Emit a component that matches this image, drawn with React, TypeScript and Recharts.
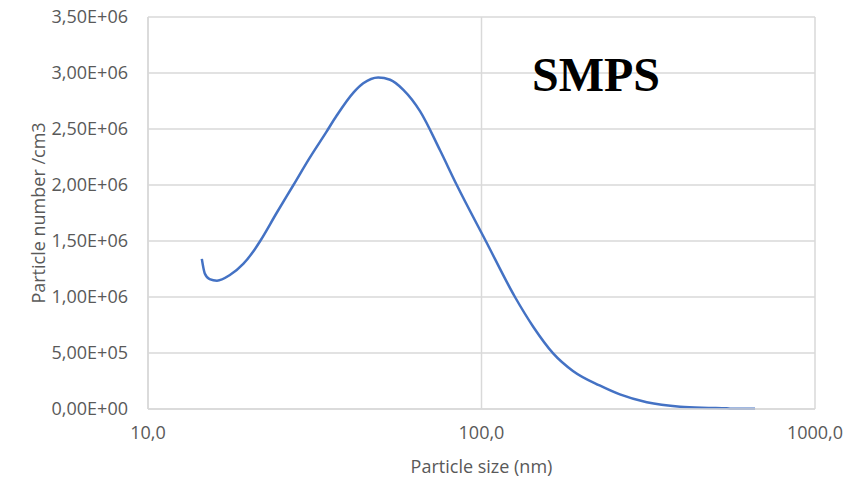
import { LineChart, Line, XAxis, YAxis, CartesianGrid } from 'recharts';

// particle size (nm)
const sizes = [
  14.5, 14.8, 15.3, 16.1, 17.6, 19.3, 20.5, 21.7, 24.3, 27.3, 30.5, 34.2, 36.8, 41.3, 44.2,
  49.0, 53.2, 58.3, 65.4, 75.1, 84.3, 103, 126, 142.9, 164, 188, 226, 260, 313, 394, 480, 543,
  560, 661,
];
// particle number /cm3
const counts = [
  1340000, 1210000, 1160000, 1146000, 1196000, 1295000, 1390000, 1500000, 1750000, 2000000,
  2240000, 2470000, 2620000, 2825000, 2908000, 2960000, 2940000, 2850000, 2660000, 2310000,
  2000000, 1500000, 1000000, 735000, 497000, 340000, 210000, 130000, 60000, 20000, 10000, 6000,
  2000, 2000,
];
const xTicks = [10, 100, 1000];
const yTicks = [0, 500000, 1000000, 1500000, 2000000, 2500000, 3000000, 3500000];

const data = sizes.map((s, i) => ({ size: s, n: counts[i] }));

const fmtX = (v: number) => v.toFixed(1).replace('.', ',');
const fmtY = (v: number) => {
  if (v === 0) return '0,00E+00';
  const e = Math.floor(Math.log10(v));
  const m = (v / Math.pow(10, e)).toFixed(2).replace('.', ',');
  return `${m}E+${String(e).padStart(2, '0')}`;
};

const font = '"Open Sans", sans-serif';
const tickStyle = { fill: '#595959', fontSize: 18, fontFamily: font };

export default function App() {
  return (
    <div style={{ position: 'absolute', left: 0, top: 0, width: 864, height: 478, background: '#fff' }}>
      <LineChart width={864} height={478} data={data} margin={{ top: 17, right: 49, left: 0, bottom: 0 }}>
        <CartesianGrid stroke="#d9d9d9" strokeWidth={1.5} />
        <XAxis
          dataKey="size"
          type="number"
          scale="log"
          domain={[10, 1000]}
          ticks={xTicks}
          tickFormatter={fmtX}
          tickSize={0}
          tickMargin={17}
          height={69}
          axisLine={{ stroke: '#d9d9d9', strokeWidth: 1.5 }}
          tick={tickStyle}
          allowDataOverflow
          label={{ value: 'Particle size (nm)', position: 'insideBottom', offset: 5, fill: '#595959', fontSize: 18, fontFamily: font }}
        />
        <YAxis
          type="number"
          domain={[0, 3500000]}
          ticks={yTicks}
          tickFormatter={fmtY}
          tickSize={0}
          tickMargin={20}
          width={148}
          axisLine={{ stroke: '#d9d9d9', strokeWidth: 1.5 }}
          tick={tickStyle}
          label={{ value: 'Particle number /cm3', angle: -90, position: 'center', dx: -35, fill: '#595959', fontSize: 18, fontFamily: font }}
        />
        <Line
          type="monotone"
          dataKey="n"
          stroke="#4472C4"
          strokeWidth={2.5}
          dot={false}
          isAnimationActive={false}
        />
      </LineChart>
      <div
        style={{
          position: 'absolute',
          left: 596,
          top: 75,
          transform: 'translate(-50%, -50%)',
          fontFamily: '"Liberation Serif", "Times New Roman", serif',
          fontWeight: 'bold',
          fontSize: 48,
          color: '#000',
          lineHeight: 1,
        }}
      >
        SMPS
      </div>
    </div>
  );
}
